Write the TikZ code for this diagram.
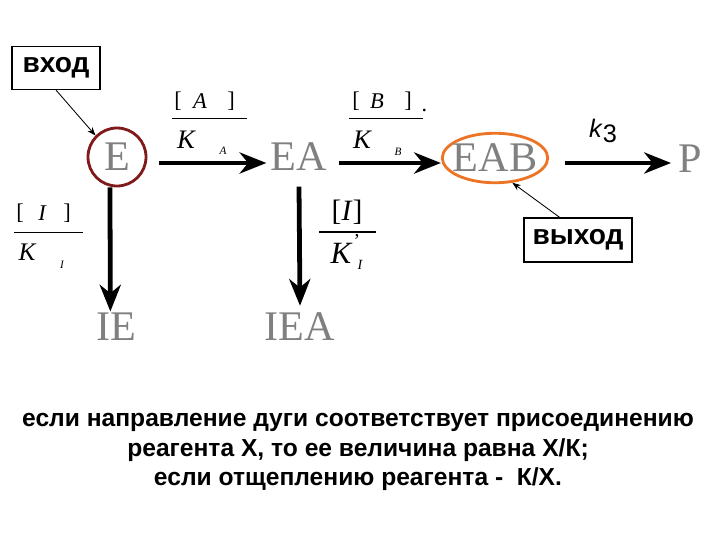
\documentclass[tikz,border=0pt]{standalone}
\usepackage{fontspec}
\setmainfont{Liberation Serif}
\setsansfont{Liberation Sans}
\usetikzlibrary{shapes}
\usetikzlibrary{calc}
\usetikzlibrary{arrows.meta}

\definecolor{ringred}{RGB}{128,26,26}
\definecolor{ringorange}{RGB}{236,116,36}
\definecolor{lettergray}{RGB}{128,128,128}

\tikzset{
  species/.style={text=lettergray, font=\fontsize{30}{30}\selectfont, inner sep=1pt},
  react/.style={-{Stealth[length=19pt,width=15pt,inset=6pt]}, line width=3.4pt},
  callout/.style={-{Stealth[length=6pt,width=4.5pt]}, semithick},
  tagbox/.style={draw, thick, font=\sffamily\bfseries\fontsize{20}{20}\selectfont},
  ratio/.style={font=\itshape\fontsize{16}{16}\selectfont, inner sep=0pt},
  ratiosub/.style={font=\itshape\fontsize{8}{8}\selectfont, inner sep=0pt}
}

\begin{document}
\begin{tikzpicture}[x=0.025cm, y=-0.025cm]
  \useasboundingbox (0,0) rectangle (720,540);

  \node[tagbox, minimum width=2.2cm, minimum height=1.075cm] (vhod) at (56,68) {вход};

  \node[species, circle, draw=ringred, line width=2pt, minimum size=1.45cm] (E) at (117,157) {E};
  \node[species] (EA) at (299,157) {EA};
  \node[species, ellipse, draw=ringorange, line width=2pt, inner xsep=-3.5pt, inner ysep=2.5pt] (EAB) at (495,158) {EAB};
  \node[species] (P) at (690,159) {P};
  \node[species] (IE) at (116,327) {IE};
  \node[species] (IEA) at (300,327) {IEA};

  \node[tagbox, minimum width=2.7cm, minimum height=1.1cm] (vyhod) at (578,240) {выход};

  \draw[callout] (vhod.south) -- (E.135);
  \draw[callout] (vyhod.129) -- (EAB.-55);

  \path[react] ([xshift=8pt]E.east |- 0,163) edge ([xshift=-2pt]EA.west |- 0,163);
  \path[react] ([xshift=7pt]EA.east |- 0,163) edge (EAB.west |- 0,163);
  \path[react] ([xshift=11pt]EAB.east |- 0,163) edge ([xshift=-4pt]P.west |- 0,163);
  \path[react] ([xshift=-5pt]E.south) edge ([xshift=-4pt]IE.north);
  \path[react] ([yshift=-10pt]EA.south) edge ([yshift=4pt]IEA.north);

  % [A]/K_A
  \node[ratio, font=\fontsize{16}{16}\selectfont] (brA1) at (178,101) {[};
  \node[ratio] (numA) at (200,101) {A};
  \node[ratio, font=\fontsize{16}{16}\selectfont] (brA2) at (231,101) {]};
  \draw (172,118) -- (247,118);
  \node[ratio, font=\itshape\fontsize{19}{19}\selectfont] (denA) at (186,140) {K};
  \node[ratiosub] (subA) at (223,151) {A};

  % [B]/K_B
  \node[ratio, font=\fontsize{16}{16}\selectfont] (brB1) at (356,101) {[};
  \node[ratio] (numB) at (377,101) {B};
  \node[ratio, font=\fontsize{16}{16}\selectfont] (brB2) at (408,101) {]};
  \node[ratio] (dotB) at (425,110) {.};
  \draw (349,118) -- (423,118);
  \node[ratio, font=\itshape\fontsize{19}{19}\selectfont] (denB) at (362,140) {K};
  \node[ratiosub] (subB) at (398,152) {B};

  % k_3
  \node[font=\sffamily\fontsize{18}{18}\selectfont] (kcat) at (603,131) {\textit{k}\raisebox{-3pt}{3}};

  % [I]/K_I
  \node[ratio, font=\fontsize{16}{16}\selectfont] (brI1) at (20,213) {[};
  \node[ratio] (numI) at (42,213) {I};
  \node[ratio, font=\fontsize{16}{16}\selectfont] (brI2) at (67,213) {]};
  \draw (14,232) -- (83,232);
  \node[ratio, font=\itshape\fontsize{18}{18}\selectfont] (denI) at (27,252) {K};
  \node[ratiosub] (subI) at (62,265) {I};

  % [I]/K'_I
  \node[ratio, font=\fontsize{21}{21}\selectfont] (numIp) at (347,212) {[\textit{I}]};
  \draw[thick] (319,232) -- (376,232);
  \node[ratio, font=\itshape\fontsize{22}{22}\selectfont] (denIp) at (341,253) {K};
  \node[ratio, font=\fontsize{14}{14}\selectfont] (primeI) at (357,241) {'};
  \node[ratiosub, font=\itshape\fontsize{10}{10}\selectfont] (subIp) at (360,265) {I};

  \node[font=\sffamily\bfseries\fontsize{17.5}{21}\selectfont, align=center] (rule) at (358,452)
    {если направление дуги соответствует присоединению\\
     реагента Х, то ее величина равна Х/К;\\
     если отщеплению реагента -\ \ К/Х.};
\end{tikzpicture}
\end{document}
